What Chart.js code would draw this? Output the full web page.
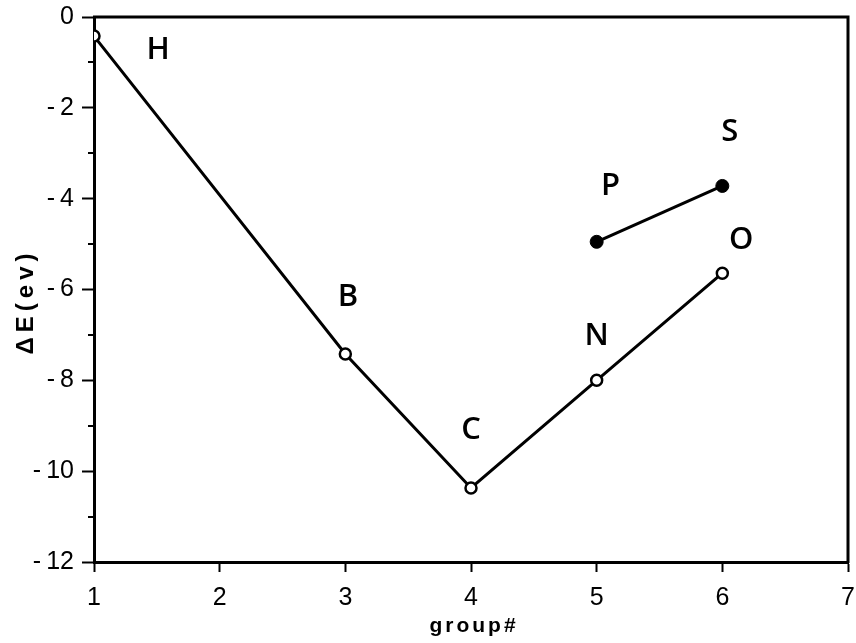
<!DOCTYPE html>
<html>
<head>
<meta charset="utf-8">
<script src="https://cdn.jsdelivr.net/npm/chart.js@4"></script>
<style>
  html, body { margin: 0; padding: 0; background: #fff; }
  canvas { display: block; }
</style>
</head>
<body>
<canvas id="chart" width="856" height="643"></canvas>
<script>
// group number and energy for the first-row elements (open circles)
const groups = [1, 3, 4, 5, 6];
const dE = [-0.42, -7.42, -10.37, -8.0, -5.64];

// second-row elements P and S (filled circles)
const groups2 = [5, 6];
const dE2 = [-4.95, -3.72];

// letter annotations, placed in data units
const names = ["H", "B", "C", "N", "O", "P", "S"];
const nameX = [1.51, 3.02, 4.0, 5.0, 6.15, 5.11, 6.06];
const nameY = [-0.73, -6.17, -9.1, -7.03, -4.91, -3.72, -2.53];

const xTicks = [1, 2, 3, 4, 5, 6, 7];

// frame, minor ticks, axis titles and letter labels
const extras = {
  id: "extras",
  afterDraw(chart) {
    const ctx = chart.ctx;
    const a = chart.chartArea;
    const ys = chart.scales.y;
    const xs = chart.scales.x;
    ctx.save();
    ctx.strokeStyle = "#000";
    ctx.lineWidth = 3;
    ctx.beginPath();
    ctx.moveTo(a.left - 1, a.top);
    ctx.lineTo(a.right, a.top);
    ctx.lineTo(a.right, a.bottom + 1);
    ctx.stroke();

    // short ticks at odd values on the y axis
    ctx.lineWidth = 2;
    for (let v = -11; v < 0; v += 2) {
      const py = Math.round(ys.getPixelForValue(v));
      ctx.beginPath();
      ctx.moveTo(a.left - 6, py);
      ctx.lineTo(a.left, py);
      ctx.stroke();
    }

    // letters
    ctx.fillStyle = "#000";
    ctx.font = "600 31px 'Open Sans'";
    ctx.textAlign = "center";
    ctx.textBaseline = "middle";
    names.forEach((n, i) => {
      ctx.fillText(n, xs.getPixelForValue(nameX[i]), ys.getPixelForValue(nameY[i]));
    });

    // axis titles
    ctx.font = "bold 21px 'Liberation Sans'";
    ctx.letterSpacing = "3px";
    ctx.fillText("group#", (a.left + a.right) / 2 + 3, 626);

    ctx.translate(26, (a.top + a.bottom) / 2 + 12);
    ctx.rotate(-Math.PI / 2);
    ctx.font = "bold 24px 'Liberation Sans'";
    ctx.letterSpacing = "5px";
    ctx.fillText("\u0394E(ev)", 0, 0);
    ctx.restore();
  }
};

// fixed box sizes so the plot area sits where the reference has it
const fitX = (s) => { s.height = 81; s.paddingLeft = 0; s.paddingRight = 0; };
const fitY = (s) => { s.width = 94; s.paddingTop = 0; s.paddingBottom = 0; };

new Chart(document.getElementById("chart"), {
  type: "scatter",
  data: {
    datasets: [
      {
        data: groups.map((g, i) => ({ x: g, y: dE[i] })),
        showLine: true,
        borderColor: "#000",
        borderWidth: 3,
        pointRadius: 5.5,
        pointBorderWidth: 2.5,
        pointBackgroundColor: "#fff",
        pointBorderColor: "#000"
      },
      {
        data: groups2.map((g, i) => ({ x: g, y: dE2[i] })),
        showLine: true,
        borderColor: "#000",
        borderWidth: 3,
        pointRadius: 6.5,
        pointBorderWidth: 1,
        pointBackgroundColor: "#000",
        pointBorderColor: "#000"
      }
    ]
  },
  options: {
    responsive: false,
    animation: false,
    layout: { padding: { left: 0, right: 5, top: 17, bottom: 0 } },
    plugins: { legend: { display: false }, tooltip: { enabled: false } },
    scales: {
      x: {
        type: "linear",
        min: 1,
        max: 7,
        afterFit: fitX,
        afterBuildTicks: (s) => { s.ticks = xTicks.map(v => ({ value: v })); },
        border: { color: "#000", width: 3 },
        grid: { drawOnChartArea: false, tickLength: 10, tickWidth: 2, tickColor: "#000" },
        ticks: { color: "#000", padding: 11, font: { family: "'Liberation Sans'", size: 25 } }
      },
      y: {
        min: -12,
        max: 0,
        afterFit: fitY,
        border: { color: "#000", width: 3 },
        grid: {
          drawOnChartArea: false,
          tickLength: 12,
          tickWidth: 2,
          tickColor: (c) => (c.tick && Math.abs(c.tick.value) % 2 === 1 ? "rgba(0,0,0,0)" : "#000")
        },
        ticks: {
          stepSize: 1,
          color: "#000",
          padding: 8,
          font: { family: "'Liberation Sans'", size: 25 },
          callback: (v) => (Math.abs(v) % 2 !== 0 ? "" : v < 0 ? "-\u2009" + Math.abs(v) : String(v))
        }
      }
    }
  },
  plugins: [extras]
});
</script>
</body>
</html>
